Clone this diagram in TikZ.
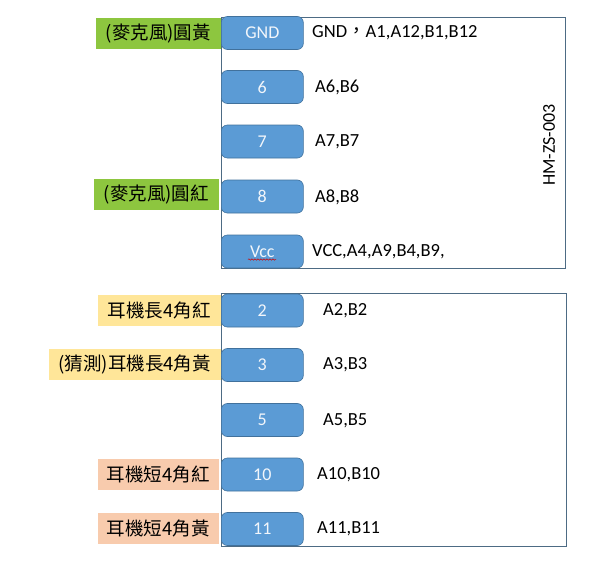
\documentclass[tikz,border=0pt]{standalone}
\usepackage{fontspec}
\setmainfont{Carlito}
\newfontfamily\cjk{Noto Sans CJK TC}
\usetikzlibrary{decorations.pathmorphing}
\definecolor{pillfill}{HTML}{5B9BD5}
\definecolor{pillline}{HTML}{41719C}
\definecolor{boxline}{HTML}{4D6B84}
\definecolor{lgreen}{HTML}{8DC63F}
\definecolor{lyellow}{HTML}{FFE699}
\definecolor{lpeach}{HTML}{F8CBAD}
\definecolor{pilltext}{HTML}{F2F6FB}
\tikzset{
  pill/.style={draw=pillline, fill=pillfill, rounded corners=6pt, minimum width=82pt, minimum height=33pt, inner sep=0pt, anchor=west, text=pilltext, font=\fontsize{18}{19}\selectfont, line width=0.6pt},
  lab/.style={anchor=east, minimum height=31pt, inner xsep=0pt, inner ysep=0pt, font=\cjk\fontsize{18.5}{20}\selectfont},
  pins/.style={anchor=west, inner sep=0pt, font=\fontsize{18.5}{20}\selectfont},
  frame/.style={draw=boxline, line width=0.8pt}
}
\begin{document}
\begin{tikzpicture}[x=1pt,y=-1pt]
\useasboundingbox (0,0) rectangle (596,560);
% frames
\draw[frame] (221,17) rectangle (565,268);
\draw[frame] (221,293) rectangle (566,546);
% pills top
\node[pill] (gnd) at (221,33) {GND};
\node[pill] (p6) at (221,87) {6};
\node[pill] (p7) at (221,141.5) {7};
\node[pill] (p8) at (221,196.5) {8};
\node[pill] (vcc) at (221,251.5) {Vcc};
% pills bottom
\node[pill] (p2) at (221,310.5) {2};
\node[pill] (p3) at (221,365) {3};
\node[pill] (p5) at (221,420) {5};
\node[pill] (p10) at (221,474.5) {10};
\node[pill] (p11) at (221,529) {11};
% spell-check underline
\coordinate (u1) at (248,259.5);
\coordinate (u2) at (276,259.5);
\draw[red!80!black, line width=0.5pt, decorate, decoration={snake, amplitude=0.7pt, segment length=3pt}] (u1) -- (u2);
% pin texts
\node[pins] (tg) at (312,33) {GND{\cjk ，}A1,A12,B1,B12};
\node[pins] (t6) at (315,87) {A6,B6};
\node[pins] (t7) at (315,141.5) {A7,B7};
\node[pins] (t8) at (315,197) {A8,B8};
\node[pins] (tv) at (312,251.5) {VCC,A4,A9,B4,B9,};
\node[pins] (t2) at (323,310.5) {A2,B2};
\node[pins] (t3) at (323,365) {A3,B3};
\node[pins] (t5) at (323,420.5) {A5,B5};
\node[pins] (t10) at (317,474.5) {A10,B10};
\node[pins] (t11) at (317,529) {A11,B11};
% model
\node[rotate=90, inner sep=0pt, font=\fontsize{18}{20}\selectfont] (model) at (549,145) {HM-ZS-003};
% labels
\node[lab, fill=lgreen, minimum width=125pt] (l1) at (221,33.5) {(麥克風)圓黃};
\node[lab, fill=lgreen, minimum width=125pt] (l2) at (219,194.5) {(麥克風)圓紅};
\node[lab, fill=lyellow, minimum width=123pt] (l3) at (221,310) {耳機長4角紅};
\node[lab, fill=lyellow, minimum width=172pt] (l4) at (221,364.5) {(猜測)耳機長4角黃};
\node[lab, fill=lpeach, minimum width=121pt] (l5) at (219,474) {耳機短4角紅};
\node[lab, fill=lpeach, minimum width=121pt] (l6) at (219,528) {耳機短4角黃};
\end{tikzpicture}
\end{document}
